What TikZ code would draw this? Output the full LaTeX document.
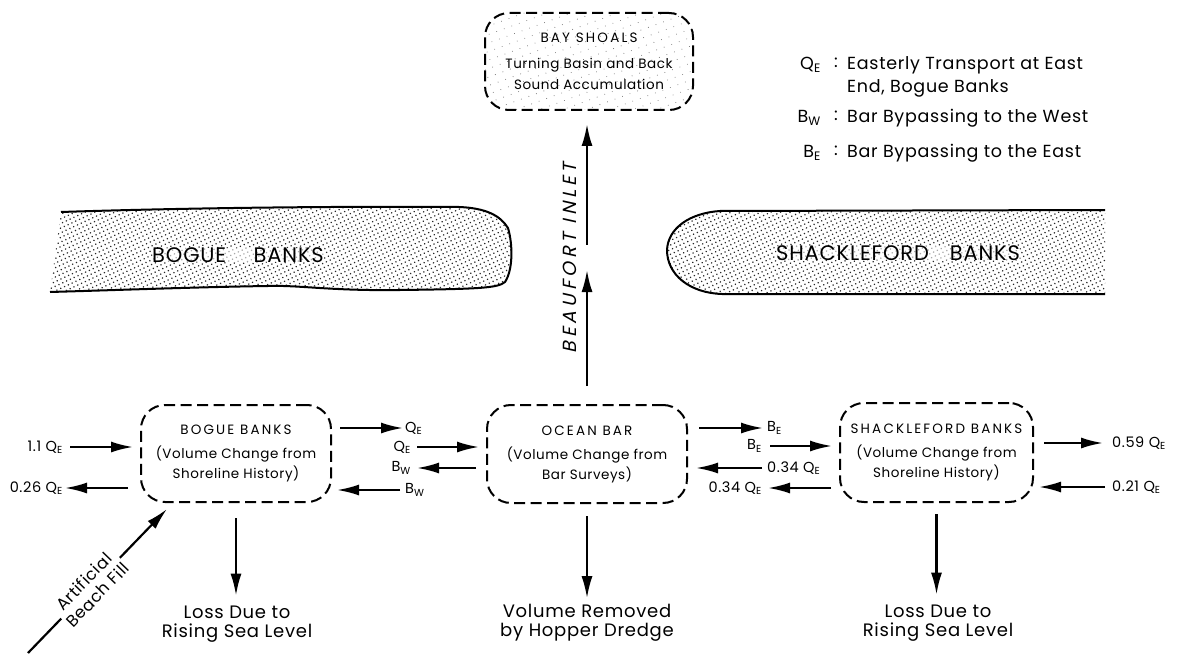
\documentclass[tikz,border=0pt]{standalone}
\usepackage{fontspec}
\setmainfont{Poppins}[LetterSpace=4]
\newfontfamily\inletfont{Poppins}[FakeSlant=0.22,LetterSpace=20]
\newfontfamily\titlefont{Poppins}[LetterSpace=16]
\usetikzlibrary{arrows.meta,patterns.meta}
\newcommand{\mysub}[1]{\textsubscript{#1}}
\begin{document}
\begin{tikzpicture}[x=1pt,y=-1pt,
  box/.style={draw, line width=2pt, dash pattern=on 11pt off 5.5pt, rounded corners=24pt, align=center, inner sep=0pt},
  arr/.style={line width=2.2pt, -{Latex[length=22pt,width=11pt]}},
  lab/.style={inner sep=0pt, font=\fontsize{14.5}{16}\selectfont},
  btxt/.style={font=\fontsize{13.5}{20}\selectfont},
  big/.style={align=center, inner sep=0pt, font=\fontsize{18}{19}\selectfont},
  leg/.style={inner sep=0pt, anchor=west, font=\fontsize{17.5}{19}\selectfont},
  land/.style={pattern={Dots[distance=4.2pt,radius=0.85pt,angle=25]}, pattern color=black!85},
  landedge/.style={line width=2pt},
  landtxt/.style={inner sep=0pt, fill=white, fill opacity=0.6, text opacity=1, font=\fontsize{21}{21}\selectfont}
]
\useasboundingbox (0,0) rectangle (1178,655);

% land strips
\fill[land] (50,292) -- (61,212) .. controls (150,209) and (300,206) .. (459,207) .. controls (485,208) and (500,215) .. (508,228) .. controls (513,245) and (513,270) .. (505,282) .. controls (498,288) and (480,289) .. (400,290) .. controls (330,291) and (300,285) .. (268,286) .. controls (200,287) and (120,290) .. (50,292) -- cycle;
\draw[landedge] (61,212) .. controls (150,209) and (300,206) .. (459,207) .. controls (485,208) and (500,215) .. (508,228) .. controls (513,245) and (513,270) .. (505,282) .. controls (498,288) and (480,289) .. (400,290) .. controls (330,291) and (300,285) .. (268,286) .. controls (200,287) and (120,290) .. (50,292);
\fill[land] (1105,210) -- (720,211) .. controls (690,213) and (668,228) .. (667,250) .. controls (667,275) and (690,293) .. (722,294) -- (1105,294) -- cycle;
\draw[landedge] (1105,210) -- (720,211) .. controls (690,213) and (668,228) .. (667,250) .. controls (667,275) and (690,293) .. (722,294) -- (1105,294);
\node[landtxt] (boguelbl) at (238,255) {BOGUE\quad\ BANKS};
\node[landtxt] (shacklbl) at (898,253) {SHACKLEFORD\quad BANKS};

% boxes
\node[box, btxt, minimum width=190pt, minimum height=97pt] (bogue) at (236,453.5) {{\titlefont BOGUE BANKS}\\[4pt](Volume Change from\\Shoreline History)};
\node[box, btxt, minimum width=200pt, minimum height=98pt] (ocean) at (587,454) {{\titlefont OCEAN BAR}\\[4pt](Volume Change from\\Bar Surveys)};
\node[box, btxt, minimum width=193pt, minimum height=99pt] (shack) at (936.5,452.5) {{\titlefont SHACKLEFORD BANKS}\\[4pt](Volume Change from\\Shoreline History)};
\node[box, btxt, minimum width=208pt, minimum height=97pt, pattern={Dots[distance=8pt,radius=0.5pt,angle=20]}, pattern color=black!55, font=\fontsize{13.5}{21}\selectfont] (bay) at (589,61.5) {{\titlefont BAY SHOALS}\\[5pt]Turning Basin and Back\\Sound Accumulation};

% Beaufort inlet
\coordinate (inmid) at (586,257);
\draw[arr, shorten <=18pt, shorten >=13pt] (ocean.north) -- (ocean.north |- inmid);
\draw[arr, shorten <=12pt, shorten >=13pt] (ocean.north |- inmid) -- (ocean.north |- bay.south);
\node[rotate=90, inner sep=0pt, font=\inletfont\fontsize{19}{19}\selectfont] (inlet) at (570,258) {BEAUFORT INLET};

% bottom outputs
\node[big] (loss1) at (237,624) {Loss Due to\\Rising Sea Level};
\node[big] (dredge) at (587,623) {Volume Removed\\by Hopper Dredge};
\node[big] (loss2) at (938,623) {Loss Due to\\Rising Sea Level};
\draw[arr, shorten <=15pt, shorten >=10pt] (bogue.south) -- (bogue.south |- loss1.north);
\draw[arr, shorten <=12pt, shorten >=6pt] (ocean.south) -- (ocean.south |- dredge.north);
\draw[arr, shorten <=11pt, shorten >=10pt] (shack.south) -- (shack.south |- loss2.north);

% artificial beach fill
\coordinate (abf) at (28,653);
\draw[arr] (abf) -- node[pos=0.45, sloped, fill=white, align=center, inner sep=1pt, font=\fontsize{16.5}{19}\selectfont] (abflbl) {Artificial\\Beach Fill} ([shift={(27,6)}]bogue.south west);

% horizontal transports
\node[lab, anchor=east] (l11) at (63,447) {1.1 Q\mysub{E}};
\draw[arr, shorten <=7pt, shorten >=7pt] (l11.east) -- (l11.east -| bogue.west);
\node[lab, anchor=east] (l026) at (63,488) {0.26 Q\mysub{E}};
\draw[arr, shorten <=12pt, shorten >=2pt] (l026.east -| bogue.west) -- (l026.east);

\node[lab, anchor=west] (lqe1) at (405,428) {Q\mysub{E}};
\draw[arr, shorten <=8pt, shorten >=2pt] (lqe1.west -| bogue.east) -- (lqe1.west);
\node[lab, anchor=east] (lqe2) at (411,447) {Q\mysub{E}};
\draw[arr, shorten <=6pt, shorten >=7pt] (lqe2.east) -- (lqe2.east -| ocean.west);
\node[lab, anchor=east] (lbw1) at (411,468) {B\mysub{W}};
\draw[arr, shorten <=10pt, shorten >=6pt] (lbw1.east -| ocean.west) -- (lbw1.east);
\node[lab, anchor=west] (lbw2) at (405,490) {B\mysub{W}};
\draw[arr, shorten <=5pt, shorten >=5pt] (lbw2.west) -- (lbw2.west -| bogue.east);

\node[lab, anchor=west] (lbe1) at (767,428) {B\mysub{E}};
\draw[arr, shorten <=11pt, shorten >=4pt] (lbe1.west -| ocean.east) -- (lbe1.west);
\node[lab, anchor=east] (lbe2) at (762,446) {B\mysub{E}};
\draw[arr, shorten <=8pt, shorten >=7pt] (lbe2.east) -- (lbe2.east -| shack.west);
\node[lab, anchor=west] (l034a) at (767,468) {0.34 Q\mysub{E}};
\draw[arr, shorten <=5pt, shorten >=8pt] (l034a.west) -- (l034a.west -| ocean.east);
\node[lab, anchor=east] (l034b) at (762,488) {0.34 Q\mysub{E}};
\draw[arr, shorten <=8pt, shorten >=6pt] (l034b.east -| shack.west) -- (l034b.east);

\node[lab, anchor=west] (l059) at (1112,443) {0.59 Q\mysub{E}};
\draw[arr, shorten <=10pt, shorten >=9pt] (l059.west -| shack.east) -- (l059.west);
\node[lab, anchor=west] (l021) at (1112,487) {0.21 Q\mysub{E}};
\draw[arr, shorten <=7pt, shorten >=5pt] (l021.west) -- (l021.west -| shack.east);

% legend
\node[leg, anchor=east] (legq) at (821,65) {Q\mysub{E}};
\node[leg, anchor=center] (legqc) at (836,63) {:};
\node[leg] (legqt) at (847,65) {Easterly Transport at East};
\node[leg] (legqt2) at (847,88) {End, Bogue Banks};
\node[leg, anchor=east] (legw) at (821,118) {B\mysub{W}};
\node[leg, anchor=center] (legwc) at (836,116) {:};
\node[leg] (legwt) at (847,118) {Bar Bypassing to the West};
\node[leg, anchor=east] (lege) at (821,153) {B\mysub{E}};
\node[leg, anchor=center] (legec) at (836,151) {:};
\node[leg] (leget) at (847,153) {Bar Bypassing to the East};
\end{tikzpicture}
\end{document}
